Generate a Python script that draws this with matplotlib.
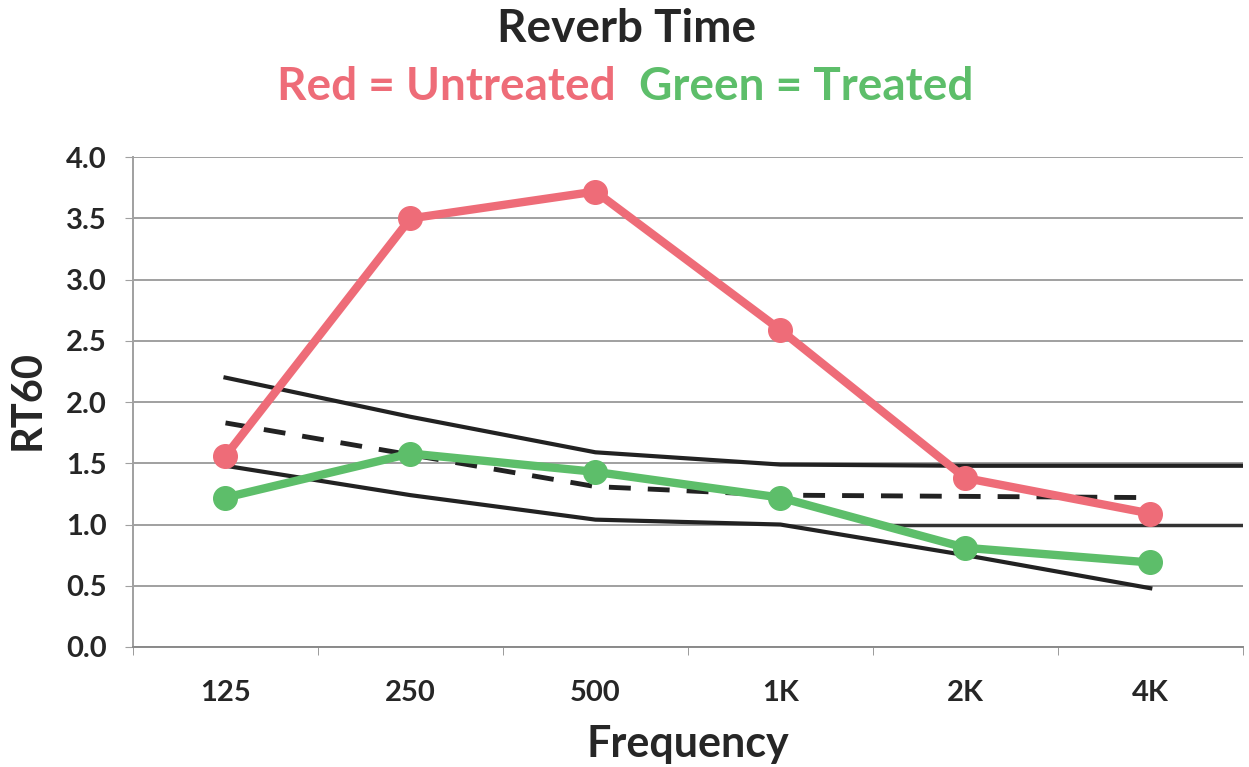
import numpy as np
import matplotlib
matplotlib.use("Agg")
import matplotlib.pyplot as plt

# data
freqs = ["125", "250", "500", "1K", "2K", "4K"]
untreated = [1.56, 3.50, 3.72, 2.59, 1.38, 1.09]
treated = [1.22, 1.58, 1.43, 1.22, 0.81, 0.69]
upper = [2.20, 1.88, 1.59, 1.49, 1.48, 1.48]
target = [1.83, 1.57, 1.31, 1.24, 1.23, 1.22]
lower = [1.48, 1.24, 1.04, 1.00, 0.75, 0.48]
yticks = [0.0, 0.5, 1.0, 1.5, 2.0, 2.5, 3.0, 3.5, 4.0]

RED = "#EE6C78"
GREEN = "#5DBE6A"
TXT = "#262626"

plt.rcParams["font.family"] = ["Lato", "DejaVu Sans"]

fig = plt.figure(figsize=(12.49, 7.67), dpi=100)
ax = fig.add_axes([0.1065, 0.1565, 0.8885, 0.6385])

x = np.arange(len(freqs))
ax.set_xlim(-0.5, len(freqs) - 0.5)
ax.set_ylim(0, 4.0)

ax.set_yticks(yticks)
ax.set_yticklabels([f"{v:.1f}" for v in yticks])
ax.grid(axis="y", color="#a0a0a0", linewidth=1.4, zorder=0)
ax.set_axisbelow(True)

# black reference band, extended to the right edge like the original
ax.plot(list(x) + [x[-1] + 0.5], upper + [upper[-1]], color="#222222", lw=3, zorder=2)
ax.plot(x, lower, color="#222222", lw=3, zorder=2)
ax.plot([3.6, 5.5], [1.0, 1.0], color="#333333", lw=2.5, zorder=2)
ax.plot(x, target, color="#222222", lw=3.5, dashes=(4.5, 3.5), zorder=2)

ax.plot(x, untreated, color=RED, lw=6, marker="o", ms=17, zorder=4)
ax.plot(x, treated, color=GREEN, lw=6, marker="o", ms=17, zorder=3)

ax.set_xticks(x)
ax.set_xticklabels(freqs)
ax.set_xticks(np.arange(-0.5, len(freqs)), minor=True)
ax.tick_params(axis="x", which="major", length=0, pad=24, labelsize=21, labelcolor=TXT)
ax.tick_params(axis="x", which="minor", length=6, color="#8a8a8a", direction="out")
ax.tick_params(axis="y", length=6, color="#a0a0a0", labelsize=21, labelcolor=TXT, pad=13)
for lab in ax.get_xticklabels() + ax.get_yticklabels():
    lab.set_fontweight("bold")

for s in ["top", "right"]:
    ax.spines[s].set_visible(False)
ax.spines["left"].set_color("#a0a0a0")
ax.spines["bottom"].set_color("#8a8a8a")
ax.spines["left"].set_linewidth(1.4)
ax.spines["bottom"].set_linewidth(1.4)

ax.set_xlabel("Frequency", fontsize=31, fontweight="bold", color=TXT, labelpad=13)
ax.set_ylabel("RT60", fontsize=30, fontweight="bold", color=TXT, va="center")
ax.yaxis.set_label_coords(-0.095, 0.505)

fig.text(0.5015, 0.962, "Reverb Time", ha="center", va="center",
         fontsize=33, fontweight="bold", color=TXT)
fig.text(0.4925, 0.886, "Red = Untreated", ha="right", va="center",
         fontsize=33, fontweight="bold", color=RED)
fig.text(0.512, 0.886, "Green = Treated", ha="left", va="center",
         fontsize=33, fontweight="bold", color=GREEN)

fig.savefig("out.png", dpi=100, facecolor="white")
